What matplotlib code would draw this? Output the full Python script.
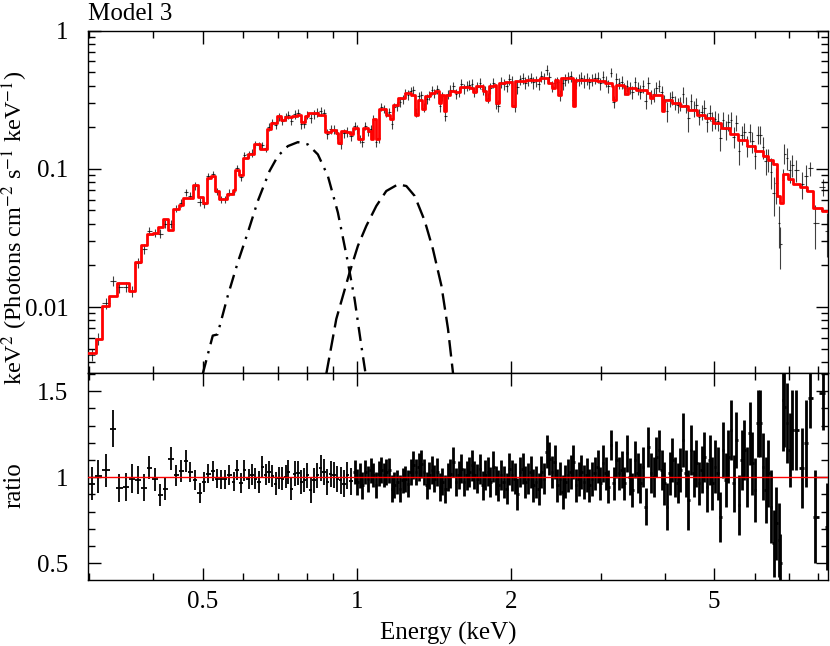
import numpy as np
import matplotlib
matplotlib.use('Agg')
import matplotlib.pyplot as plt
from matplotlib.ticker import FixedLocator, NullFormatter, FuncFormatter, MultipleLocator, LogLocator

plt.rcParams['font.family'] = ['Liberation Serif', 'DejaVu Serif']
plt.rcParams['mathtext.fontset'] = 'stix'
FS = 18

# ---------------- model (step histogram): left bin edges [keV] and flux ----------------
model_edges = [
    0.2975, 0.3089, 0.3179, 0.3281, 0.3391, 0.3591, 0.3685, 0.3784, 0.3889, 0.3988,
    0.4079, 0.4185, 0.4267, 0.4378, 0.4498, 0.4581, 0.4777, 0.4886, 0.4996, 0.5088,
    0.5190, 0.5291, 0.5387, 0.5577, 0.5720, 0.5790, 0.5895, 0.5984, 0.6121, 0.6308,
    0.6471, 0.6680, 0.6801, 0.6987, 0.7115, 0.7244, 0.7452, 0.7622, 0.7762, 0.7903,
    0.8011, 0.8230, 0.8379, 0.8648, 0.8887, 0.9089, 0.9183, 0.9324, 0.9508, 0.9681,
    0.9826, 1.005, 1.028, 1.051, 1.068, 1.075, 1.088, 1.105, 1.142, 1.159,
    1.177, 1.204, 1.240, 1.278, 1.298, 1.317, 1.344, 1.358, 1.388, 1.420,
    1.448, 1.464, 1.479, 1.497, 1.519, 1.554, 1.590, 1.664, 1.688, 1.708,
    1.766, 1.788, 1.814, 1.853, 1.870, 1.897, 1.947, 2.016, 2.037, 2.147,
    2.280, 2.367, 2.404, 2.440, 2.476, 2.514, 2.642, 2.670, 2.814, 2.944,
    3.056, 3.150, 3.173, 3.212, 3.319, 3.345, 3.395, 3.515, 3.689, 3.744,
    3.800, 3.947, 3.988, 4.135, 4.287, 4.444, 4.622, 4.797, 4.981, 5.157,
    5.370, 5.567, 5.790, 6.010, 6.240, 6.374, 6.529, 6.629, 6.729, 6.829,
    6.975, 7.144, 7.362, 7.589, 7.819, 8.132]
model_flux = [
    0.00466, 0.00587, 0.01022, 0.01201, 0.01483, 0.01311, 0.02124, 0.02818, 0.03366, 0.03462,
    0.03801, 0.04319, 0.03597, 0.05100, 0.05477, 0.06196, 0.07638, 0.06300, 0.05702, 0.08642,
    0.08872, 0.06912, 0.06093, 0.06620, 0.07027, 0.09754, 0.09021, 0.1205, 0.1287, 0.1520,
    0.1399, 0.1951, 0.2157, 0.2405, 0.2251, 0.2393, 0.2433, 0.2474, 0.2167, 0.2433,
    0.2516, 0.2545, 0.2474, 0.1843, 0.1897, 0.1805, 0.1546, 0.1875, 0.1835, 0.1774,
    0.1984, 0.1633, 0.1984, 0.1875, 0.1633, 0.2277, 0.1633, 0.2690, 0.2474, 0.2277,
    0.2921, 0.3266, 0.3549, 0.3450, 0.2474, 0.3175, 0.2690, 0.3354, 0.3549, 0.3645,
    0.3006, 0.3450, 0.2602, 0.3450, 0.3645, 0.3585, 0.3923, 0.3858, 0.3585, 0.3962,
    0.3645, 0.3175, 0.3962, 0.4074, 0.3006, 0.4193, 0.4249, 0.2841, 0.4305, 0.4428,
    0.4556, 0.4193, 0.3858, 0.4428, 0.3450, 0.4556, 0.2874, 0.4428, 0.4428, 0.4305,
    0.4193, 0.3962, 0.3175, 0.4074, 0.3962, 0.3508, 0.3858, 0.3750, 0.3549, 0.3266,
    0.3450, 0.2615, 0.3138, 0.2996, 0.2841, 0.2667, 0.2474, 0.2315, 0.2157, 0.1961,
    0.1774, 0.1606, 0.1461, 0.1349, 0.1237, 0.1151, 0.1078, 0.0636, 0.0570, 0.0913,
    0.0840, 0.0773, 0.0735, 0.0691, 0.0525, 0.0496]

# ---------------- additive components ----------------
comp1_energy = [0.4996, 0.5227, 0.5339, 0.5593, 0.5850, 0.6121, 0.6403, 0.6750, 0.7007, 0.7331,
                0.7669, 0.8021, 0.8391, 0.8779, 0.9183, 0.9607, 0.9901, 1.0205, 1.0405]
comp1_flux = [0.00328, 0.00621, 0.00633, 0.01207, 0.02102, 0.03462, 0.05854, 0.09640, 0.1237, 0.1461,
              0.1561, 0.1503, 0.1272, 0.0887, 0.0483, 0.0210, 0.01142, 0.00526, 0.00328]
comp2_energy = [0.8716, 0.9118, 0.9681, 1.005, 1.0438, 1.0919, 1.142, 1.204, 1.250, 1.298,
                1.358, 1.409, 1.464, 1.508, 1.543]
comp2_flux = [0.00328, 0.00819, 0.01780, 0.02771, 0.03864, 0.05387, 0.06912, 0.07726, 0.07510, 0.06361,
              0.04198, 0.02623, 0.01425, 0.00694, 0.00328]

# ---------------- data / model ratio ----------------
energy_soft = [
    0.3029, 0.3122, 0.3232, 0.3341, 0.3432, 0.3538, 0.3634, 0.3727, 0.3829, 0.3929,
    0.4031, 0.4128, 0.4222, 0.4333, 0.4432, 0.4533, 0.4636, 0.4727, 0.4829, 0.4930,
    0.5035, 0.5127, 0.5227, 0.5332, 0.5429, 0.5528, 0.5636, 0.5740, 0.5834, 0.5923,
    0.6030, 0.6140, 0.6244, 0.6336, 0.6432, 0.6531, 0.6629, 0.6729, 0.6832, 0.6934,
    0.7039, 0.7147, 0.7255, 0.7331, 0.7443, 0.7555, 0.7669, 0.7786, 0.7878, 0.8000,
    0.8120, 0.8241, 0.8370, 0.8495, 0.8623, 0.8755, 0.8887, 0.9020, 0.9158, 0.9296,
    0.9435, 0.9581, 0.9725]
ratio_soft = [
    0.963, 1.006, 1.041, 1.283, 0.938, 0.944, 0.992, 0.986, 0.940, 1.056,
    0.988, 0.895, 0.930, 1.109, 1.012, 1.037, 1.095, 1.031, 0.986, 0.909,
    0.973, 1.021, 1.035, 0.992, 0.988, 0.988, 1.015, 0.973, 1.041, 0.967,
    1.041, 0.992, 1.015, 0.992, 0.973, 1.060, 1.015, 1.031, 1.006, 0.963,
    0.996, 0.992, 1.002, 1.031, 0.934, 1.021, 1.025, 0.973, 0.982, 1.012,
    0.924, 0.982, 1.012, 1.054, 1.031, 0.973, 1.021, 1.012, 0.992, 0.982,
    0.963, 1.012, 0.977]
err_soft = [
    0.097, 0.097, 0.097, 0.107, 0.083, 0.083, 0.085, 0.082, 0.080, 0.068,
    0.066, 0.064, 0.064, 0.068, 0.062, 0.064, 0.064, 0.060, 0.058, 0.060,
    0.056, 0.055, 0.058, 0.055, 0.056, 0.054, 0.057, 0.055, 0.058, 0.056,
    0.060, 0.058, 0.062, 0.060, 0.063, 0.064, 0.062, 0.065, 0.063, 0.066,
    0.066, 0.068, 0.067, 0.070, 0.068, 0.071, 0.069, 0.072, 0.070, 0.073,
    0.072, 0.074, 0.073, 0.075, 0.074, 0.076, 0.075, 0.077, 0.076, 0.078,
    0.077, 0.079, 0.078]

energy_mid = [
    0.990, 1.002, 1.014, 1.026, 1.039, 1.051, 1.064, 1.077, 1.090, 1.103,
    1.116, 1.130, 1.143, 1.157, 1.171, 1.185, 1.200, 1.214, 1.229, 1.244,
    1.259, 1.274, 1.289, 1.305, 1.321, 1.337, 1.353, 1.369, 1.386, 1.402,
    1.419, 1.436, 1.454, 1.471, 1.489, 1.507, 1.525, 1.544, 1.562, 1.581,
    1.600, 1.620, 1.639, 1.659, 1.679, 1.699, 1.720, 1.741, 1.762, 1.783,
    1.805, 1.826, 1.848, 1.871, 1.893, 1.916, 1.939, 1.963, 1.987, 2.011,
    2.035, 2.060, 2.085, 2.110, 2.135, 2.161, 2.187, 2.214, 2.241, 2.268,
    2.295, 2.323, 2.351, 2.379, 2.408, 2.437, 2.467, 2.497, 2.527, 2.557,
    2.588, 2.620, 2.651, 2.683, 2.716, 2.749, 2.782, 2.816, 2.850, 2.884]
ratio_mid = [
    1.031, 0.973, 1.012, 0.953, 1.031, 0.992, 1.041, 1.012, 0.953, 1.021,
    1.041, 1.012, 1.031, 1.041, 0.934, 0.953, 0.973, 0.934, 0.982, 0.992,
    0.963, 1.031, 1.070, 1.031, 1.060, 1.079, 1.031, 0.953, 1.012, 1.041,
    0.992, 1.031, 0.944, 0.973, 0.934, 1.002, 1.021, 1.089, 0.973, 1.012,
    1.050, 0.973, 1.012, 1.031, 1.070, 1.012, 0.992, 1.050, 0.953, 1.012,
    1.031, 0.973, 1.060, 0.982, 0.953, 1.012, 0.973, 0.934, 1.050, 1.012,
    0.992, 0.905, 1.031, 1.050, 0.973, 0.992, 1.031, 0.953, 0.973, 0.934,
    1.031, 0.992, 1.147, 1.109, 1.031, 1.089, 0.953, 0.992, 0.915, 0.973,
    1.012, 1.031, 1.089, 0.953, 0.992, 1.031, 0.973, 1.012, 0.953, 0.992]
err_mid = [
    0.070, 0.075, 0.072, 0.078, 0.070, 0.075, 0.073, 0.070, 0.076, 0.072,
    0.074, 0.070, 0.076, 0.073, 0.078, 0.075, 0.072, 0.077, 0.074, 0.076,
    0.078, 0.075, 0.080, 0.076, 0.079, 0.082, 0.077, 0.080, 0.078, 0.081,
    0.079, 0.083, 0.080, 0.078, 0.082, 0.080, 0.084, 0.086, 0.081, 0.083,
    0.085, 0.082, 0.084, 0.087, 0.090, 0.083, 0.086, 0.088, 0.085, 0.087,
    0.084, 0.088, 0.090, 0.086, 0.089, 0.087, 0.091, 0.088, 0.092, 0.089,
    0.090, 0.093, 0.088, 0.091, 0.094, 0.090, 0.092, 0.095, 0.091, 0.093,
    0.094, 0.092, 0.096, 0.098, 0.093, 0.097, 0.095, 0.094, 0.098, 0.096,
    0.095, 0.097, 0.099, 0.096, 0.098, 0.097, 0.100, 0.098, 0.097, 0.099]

energy_hard = [
    2.922, 2.957, 2.993, 3.029, 3.066, 3.103, 3.140, 3.178, 3.217, 3.256,
    3.295, 3.335, 3.375, 3.416, 3.457, 3.499, 3.541, 3.584, 3.627, 3.671,
    3.716, 3.761, 3.806, 3.852, 3.899, 3.946, 3.994, 4.042, 4.091, 4.140,
    4.190, 4.241, 4.292, 4.344, 4.397, 4.450, 4.504, 4.558, 4.613, 4.669,
    4.725, 4.783, 4.841, 4.899, 4.958, 5.018, 5.079, 5.140, 5.203, 5.266,
    5.329, 5.394, 5.459, 5.525, 5.592, 5.660, 5.728, 5.797, 5.868, 5.939,
    6.011, 6.083, 6.157, 6.231, 6.307, 6.383, 6.460,
    6.538, 6.617, 6.697, 6.737, 6.819, 6.860, 6.943, 7.027, 7.112, 7.241,
    7.419, 7.554, 7.713, 7.878, 8.180, 8.300]
ratio_hard = [
    1.023, 1.062, 0.965, 1.082, 1.023, 0.946, 1.188, 0.965, 1.101, 1.023,
    1.043, 0.965, 1.140, 1.004, 0.926, 1.101, 1.023, 0.965, 1.062, 0.830,
    1.178, 1.023, 1.004, 1.120, 1.159, 1.043, 0.965, 0.830, 1.023, 1.101,
    1.004, 0.965, 1.043, 1.217, 1.023, 0.868, 1.159, 1.023, 1.082, 0.965,
    1.043, 1.120, 0.946, 1.101, 0.965, 1.062, 1.023, 0.771, 1.159, 0.985,
    1.120, 1.275, 0.965, 1.217, 0.839, 1.101, 1.159, 1.004, 1.256, 1.082,
    0.926, 1.314, 1.314, 1.062, 0.926, 1.023, 0.830,
    0.616, 0.733, 0.636, 0.500, 1.450, 1.411, 1.314, 1.159, 1.275, 1.275,
    1.052, 1.198, 1.460, 0.771, 1.488, 0.713]
err_hard = [
    0.097, 0.097, 0.097, 0.107, 0.097, 0.097, 0.087, 0.097, 0.107, 0.097,
    0.107, 0.097, 0.107, 0.107, 0.097, 0.107, 0.116, 0.116, 0.116, 0.107,
    0.116, 0.116, 0.116, 0.116, 0.116, 0.116, 0.126, 0.136, 0.126, 0.126,
    0.116, 0.116, 0.126, 0.155, 0.136, 0.174, 0.145, 0.136, 0.136, 0.126,
    0.136, 0.145, 0.145, 0.145, 0.155, 0.155, 0.155, 0.145, 0.165, 0.155,
    0.155, 0.174, 0.165, 0.165, 0.174, 0.174, 0.174, 0.174, 0.184, 0.184,
    0.184, 0.194, 0.194, 0.194, 0.194, 0.194, 0.213,
    0.194, 0.213, 0.213, 0.170, 0.300, 0.233, 0.233, 0.213, 0.233, 0.233,
    0.233, 0.252, 0.174, 0.271, 0.213, 0.252]

x_limits = (0.298, 8.35)
y_limits_top = (0.00333, 1.0)
y_limits_bot = (0.403, 1.606)

# ---------------- derived arrays ----------------
energy = np.array(energy_soft + energy_mid + energy_hard)
ratio = np.array(ratio_soft + ratio_mid + ratio_hard)
rerr = np.array(err_soft + err_mid + err_hard)

loge = np.log10(energy)
mids = 0.5 * (loge[1:] + loge[:-1])
edges = np.concatenate([[2 * loge[0] - mids[0]], mids, [2 * loge[-1] - mids[-1]]])
xlo = energy - 10 ** edges[:-1]
xhi = 10 ** edges[1:] - energy

mE = np.array(model_edges)
mF = np.array(model_flux)
idx = np.clip(np.searchsorted(mE, energy, side='right') - 1, 0, len(mF) - 1)
flux = mF[idx] * ratio
ferr = mF[idx] * rerr

n_soft = len(energy_soft)

# ---------------- figure ----------------
W, H = 830, 646
fig = plt.figure(figsize=(W / 100, H / 100), dpi=100)
ax1 = fig.add_axes([88 / W, 1 - 373 / H, 740 / W, (373 - 30.7) / H])
ax2 = fig.add_axes([88 / W, 1 - 580 / H, 740 / W, 207 / H], sharex=ax1)

ax1.errorbar(energy, flux, xerr=[xlo, xhi], yerr=ferr, fmt='none', ecolor='black',
             elinewidth=0.8, alpha=0.75, capsize=0, zorder=2)
ax1.step(np.append(mE, x_limits[1]), np.append(mF, mF[-1]), where='post',
         color='red', lw=2.0, zorder=3)
ax1.plot(comp1_energy, comp1_flux, color='black', lw=1.7, dashes=(6, 3, 1, 3), zorder=4)
ax1.plot(comp2_energy, comp2_flux, color='black', lw=1.7, dashes=(7, 3), zorder=4)

s = slice(0, n_soft)
h = slice(n_soft, None)
ax2.errorbar(energy[s], ratio[s], xerr=[xlo[s], xhi[s]], yerr=rerr[s], fmt='none',
             ecolor='black', elinewidth=1.3, capsize=0, zorder=2)
ax2.errorbar(energy[h], ratio[h], xerr=[xlo[h], xhi[h]], yerr=rerr[h], fmt='none',
             ecolor='black', elinewidth=2.0, capsize=0, zorder=2)
ax2.axhline(1.0, color='red', lw=1.0, zorder=3)

fmt = FuncFormatter(lambda v, p: f'{v:g}')
for ax in (ax1, ax2):
    ax.set_xscale('log')
    ax.set_xlim(*x_limits)
    ax.tick_params(which='both', direction='in', top=True, right=True, labelsize=FS, width=1.0)
    ax.tick_params(which='major', length=9)
    ax.tick_params(which='minor', length=5)
    ax.tick_params(axis='y', pad=14)
    ax.tick_params(axis='x', pad=8)
    for sp in ax.spines.values():
        sp.set_linewidth(1.0)

ax2.xaxis.set_major_locator(FixedLocator([0.5, 1, 2, 5]))
ax2.xaxis.set_minor_locator(FixedLocator([0.3, 0.4, 0.6, 0.7, 0.8, 0.9, 3, 4, 6, 7, 8]))
ax2.xaxis.set_major_formatter(fmt)
ax2.xaxis.set_minor_formatter(NullFormatter())
ax1.tick_params(labelbottom=False)

ax1.set_yscale('log')
ax1.set_ylim(*y_limits_top)
ax1.yaxis.set_major_locator(FixedLocator([0.01, 0.1, 1]))
ax1.yaxis.set_minor_locator(LogLocator(base=10, subs=np.arange(2, 10)))
ax1.yaxis.set_major_formatter(fmt)
ax1.yaxis.set_minor_formatter(NullFormatter())

ax2.set_ylim(*y_limits_bot)
ax2.yaxis.set_major_locator(FixedLocator([0.5, 1, 1.5]))
ax2.yaxis.set_minor_locator(MultipleLocator(0.1))
ax2.yaxis.set_major_formatter(fmt)

fig.text(88 / W, 1 - 19.5 / H, 'Model 3', fontsize=FS, ha='left', va='baseline')
fig.text(14.5 / W, 1 - 228 / H, 'keV$^2$ (Photons cm$^{-2}$ s$^{-1}$ keV$^{-1}$)',
         rotation=90, ha='center', va='center', fontsize=17.5)
fig.text(14.5 / W, 1 - 485 / H, 'ratio', rotation=90, ha='center', va='center', fontsize=FS)
fig.text(448.5 / W, 1 - 640 / H, 'Energy (keV)', ha='center', va='baseline', fontsize=FS)

fig.savefig('out.png', dpi=100)
